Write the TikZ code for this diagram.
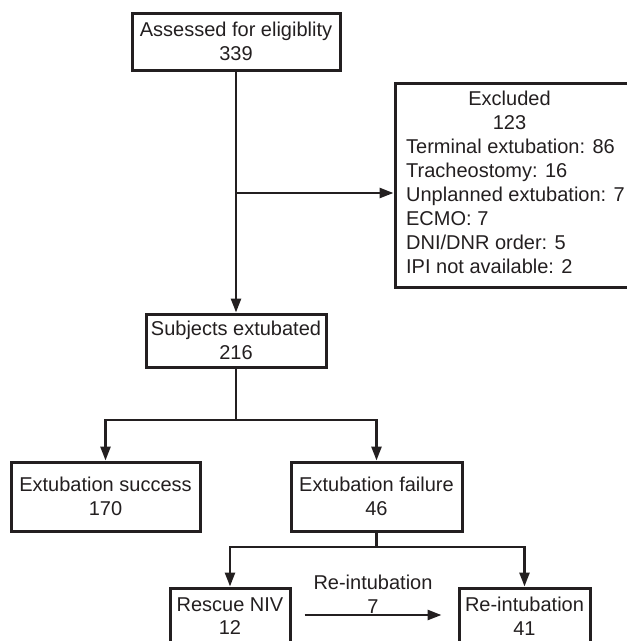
\documentclass[tikz,border=0pt]{standalone}
\usepackage{fontspec}
\setmainfont{Liberation Sans}
\usetikzlibrary{arrows.meta}
\definecolor{ink}{HTML}{231F20}
\begin{document}
\begin{tikzpicture}[x=1pt,y=-1pt,
  box/.style={draw=ink, line width=3pt, text=ink, align=center, inner sep=0pt,
    font=\fontsize{20}{23.5}\selectfont},
  conn/.style={draw=ink, line width=2.6pt, -{Triangle[length=14pt,width=10pt]}},
  lbl/.style={text=ink, align=center, inner sep=0pt, font=\fontsize{20}{23.5}\selectfont}]
\clip (0,0) rectangle (627,641);
\node[box, minimum width=208pt, minimum height=57pt] (assess) at (236,41.5) {Assessed for eligiblity\\339};
\node[box, minimum width=233pt, minimum height=204pt, font=\fontsize{20}{24}\selectfont] (excl) at (511.5,185)
  {\hspace*{8pt}\begin{tabular}{@{}l@{}}\multicolumn{1}{@{}c@{\hspace{12pt}}}{Excluded}\\ \multicolumn{1}{@{}c@{\hspace{12pt}}}{123}\\
   Terminal extubation: 86\\ Tracheostomy: 16\\ Unplanned extubation: 7\\ ECMO: 7\\
   DNI/DNR order: 5\\ IPI not available: 2\end{tabular}};
\node[box, minimum width=180pt, minimum height=53pt] (subj) at (236,340.5) {Subjects extubated\\216};
\node[box, minimum width=189pt, minimum height=69pt] (succ) at (105.5,496.5) {Extubation success\\170};
\node[box, minimum width=171pt, minimum height=69pt] (fail) at (376.5,496.5) {Extubation failure\\46};
\node[box, minimum width=120pt, minimum height=56pt] (resc) at (230,616) {Rescue NIV\\12};
\node[box, minimum width=131pt, minimum height=56pt] (reint) at (524.5,616) {Re-intubation\\41};
\node[lbl] (rlab) at (373,594) {Re-intubation\\7};
\coordinate (j1) at (236,193);
\coordinate (j2) at (236,420);
\coordinate (j3) at (376.5,547);
\coordinate (ry) at (0,615);
\draw[conn] (assess.south) -- (subj.north);
\draw[conn] (j1) -- (excl.west |- j1);
\draw[conn] (subj.south) -- (j2) -| (succ.north);
\draw[conn] (j2) -| (fail.north);
\draw[conn] (fail.south) -- (j3) -| (resc.north);
\draw[conn] (j3) -| (reint.north);
\draw[conn, shorten <=13pt, shorten >=16pt] (resc.east |- ry) -- (reint.west |- ry);
\end{tikzpicture}
\end{document}
